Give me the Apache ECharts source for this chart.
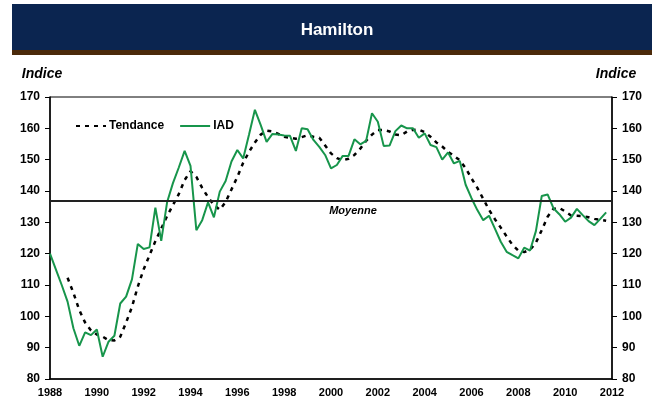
<!DOCTYPE html>
<html>
<head>
<meta charset="utf-8">
<script src="https://cdn.jsdelivr.net/npm/echarts@6/dist/echarts.min.js"></script>
<style>
  html, body { margin: 0; padding: 0; background: #fff; }
  #chart { width: 652px; height: 404px; }
</style>
</head>
<body>
<div id="chart"></div>
<script>
// années affichées sur l'axe (une étiquette tous les 2 ans)
const years = [1988, 1989, 1990, 1991, 1992, 1993, 1994, 1995, 1996, 1997, 1998, 1999,
  2000, 2001, 2002, 2003, 2004, 2005, 2006, 2007, 2008, 2009, 2010, 2011, 2012]

// IAD trimestriel, 1988T1 à 2011T4
const iad = [
  120, 115, 110, 104.7, 96.2, 90.6, 94.9, 94, 95.8, 87.1, 91.9, 93.8,
  104.1, 106.3, 111.8, 123.1, 121.5, 122, 134.7, 124.1, 136.4, 142.5, 147.5, 152.8,
  148, 127.5, 130.7, 136.4, 131.6, 139.8, 143.2, 149.4, 153.1, 150.4, 158, 165.9,
  161, 155.7, 158.2, 158, 157.7, 157.6, 152.8, 160, 159.7, 156.3, 154.1, 151.5,
  147.2, 148.3, 151.2, 151.2, 156.5, 154.9, 156, 164.8, 162.1, 154.4, 154.5, 159.1,
  160.9, 160, 160, 157, 158.4, 154.7, 154, 150, 152.3, 148.8, 149.6, 142,
  137.7, 133.9, 130.7, 132.1, 128, 123.8, 120.6, 119.5, 118.5, 121.9, 121, 127.2,
  138.4, 138.9, 134.5, 132.6, 130.2, 131.5, 134.3, 132.3, 130.4, 129.1, 131.1, 133.2
]

// tendance (commence au 4e trimestre)
const tendance = [
  null, null, null, 112.3, 107.5, 102, 98, 95.5, 94.2, 93.5, 92.4, 92.3,
  93.5, 98, 103, 109.5, 115, 119.5, 124, 128, 132, 135.5, 139, 143.5,
  146.3, 144.5, 141, 138, 135.5, 134, 136.5, 140.5, 144.5, 149, 152.5, 155.5,
  158, 159.3, 159, 158.2, 157.3, 157, 156.7, 157.2, 157.8, 157.3, 157, 154.5,
  152, 150.5, 149.8, 150.3, 151.5, 153.5, 156, 158, 159.5, 159.5, 159, 158,
  157.8, 159, 159.5, 159.6, 158.8, 157.3, 155.5, 154.2, 152.5, 151.2, 149.8, 147.3,
  144, 141, 137.5, 134, 131, 128.3, 125.5, 122.8, 121, 120.5, 121.2, 123.5,
  127.5, 131.8, 134.3, 134.6, 133.5, 132.2, 132.1, 132, 131.6, 131.1, 130.8, 130.5
]

const moyenne = 137

// catégories trimestrielles : 1988T1 ... 2012T1
const quarters = []
years.forEach((y, i) => {
  if (i < years.length - 1) {
    for (let q = 1; q <= 4; q++) quarters.push(y + 'T' + q)
  } else {
    quarters.push(y + 'T1')
  }
})

const font = '"Liberation Sans", Arial, sans-serif'
const navy = '#0b2550'
const green = '#17954b'

const chart = echarts.init(document.getElementById('chart'))

const yAxisBase = {
  type: 'value',
  min: 80,
  max: 170,
  interval: 10,
  name: 'Indice',
  nameLocation: 'end',
  nameGap: 16,
  axisLine: { show: true, lineStyle: { color: '#000', width: 1.5 } },
  axisTick: { show: true, length: 5, lineStyle: { color: '#000' } },
  splitLine: { show: false },
  axisLabel: { color: '#000', fontFamily: font, fontWeight: 'bold', fontSize: 12, margin: 10 }
}

chart.setOption({
  animation: false,
  backgroundColor: '#fff',
  title: {
    text: 'Hamilton',
    left: 332,
    top: 17,
    textAlign: 'center',
    textStyle: { color: '#fff', fontFamily: font, fontWeight: 'bold', fontSize: 17 }
  },
  graphic: [
    { type: 'rect', shape: { x: 12, y: 4, width: 640, height: 46 }, style: { fill: navy }, z: -1 },
    { type: 'rect', shape: { x: 12, y: 50, width: 640, height: 5 }, style: { fill: '#4b2a0a' }, z: -1 }
  ],
  legend: {
    left: 70,
    top: 115,
    itemWidth: 30,
    itemHeight: 10,
    itemGap: 15,
    itemStyle: { opacity: 0 },
    textStyle: { color: '#000', fontFamily: font, fontWeight: 'bold', fontSize: 12, padding: [0, 0, 0, -2] },
    data: ['Tendance', 'IAD']
  },
  grid: {
    left: 50,
    right: 40,
    top: 97,
    bottom: 25,
    show: true,
    borderColor: '#000',
    borderWidth: 1
  },
  xAxis: {
    type: 'category',
    data: quarters,
    boundaryGap: false,
    axisLine: { lineStyle: { color: '#000', width: 1.5 } },
    axisTick: { show: false },
    axisLabel: {
      color: '#000',
      fontFamily: font,
      fontWeight: 'bold',
      fontSize: 11,
      margin: 8,
      interval: (idx) => idx % 8 === 0,
      formatter: (v) => v.slice(0, 4)
    }
  },
  yAxis: [
    Object.assign({}, yAxisBase, {
      position: 'left',
      nameTextStyle: { color: '#000', fontFamily: font, fontWeight: 'bold', fontStyle: 'italic', fontSize: 14, padding: [0, 16, 0, 0] }
    }),
    Object.assign({}, yAxisBase, {
      position: 'right',
      nameTextStyle: { color: '#000', fontFamily: font, fontWeight: 'bold', fontStyle: 'italic', fontSize: 14, padding: [0, 0, 0, 8] }
    })
  ],
  series: [
    {
      name: 'Tendance',
      type: 'line',
      data: tendance,
      symbol: 'none',
      color: '#000',
      lineStyle: { color: '#000', width: 2.5, type: [4, 5] },
      z: 3
    },
    {
      name: 'IAD',
      type: 'line',
      data: iad,
      symbol: 'none',
      color: green,
      lineStyle: { color: green, width: 2 },
      z: 4,
      markLine: {
        silent: true,
        symbol: 'none',
        data: [{ yAxis: moyenne }],
        lineStyle: { color: '#222', width: 2, type: 'solid' },
        label: {
          formatter: 'Moyenne',
          position: 'insideMiddleBottom',
          offset: [22, 0],
          color: '#000',
          fontFamily: font,
          fontWeight: 'bold',
          fontStyle: 'italic',
          fontSize: 11
        },
        emphasis: { disabled: true }
      }
    }
  ]
})
</script>
</body>
</html>
